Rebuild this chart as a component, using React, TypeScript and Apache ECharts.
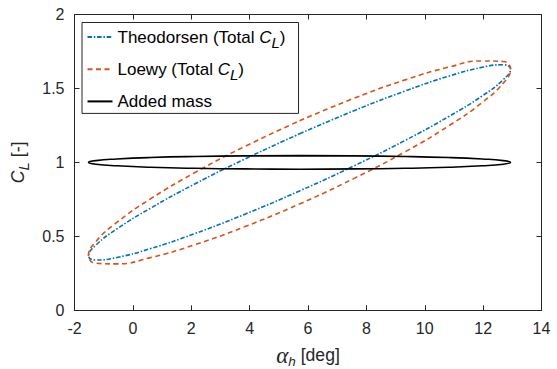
import React, { useEffect, useRef } from 'react';
import * as echarts from 'echarts';

// Stations of the pitch angle around each hysteresis loop (deg)
const ALPHA_DEG = [5.71, 7.58, 9.33, 10.82, 11.97, 12.69, 12.94, 12.69, 11.97, 10.82, 9.33, 7.58, 5.71, 3.84, 2.10, 0.60, -0.55, -1.27, -1.52, -1.27, -0.55, 0.60, 2.10, 3.84];

// Lift coefficient
const CL_THEODORSEN = [1.193, 1.350, 1.483, 1.583, 1.643, 1.660, 1.631, 1.560, 1.450, 1.310, 1.149, 0.977, 0.807, 0.650, 0.517, 0.417, 0.357, 0.340, 0.369, 0.440, 0.550, 0.690, 0.852, 1.023];
const CL_LOEWY = [1.281, 1.434, 1.558, 1.644, 1.686, 1.682, 1.630, 1.536, 1.406, 1.247, 1.072, 0.892, 0.719, 0.566, 0.442, 0.356, 0.314, 0.318, 0.370, 0.464, 0.594, 0.753, 0.928, 1.108];
const CL_ADDED_MASS = [1.046, 1.044, 1.040, 1.033, 1.023, 1.012, 1.000, 0.988, 0.977, 0.967, 0.960, 0.956, 0.954, 0.956, 0.960, 0.967, 0.977, 0.988, 1.000, 1.012, 1.023, 1.033, 1.040, 1.044];

const SERIES_NAMES = ['Theodorsen (Total CL)', 'Loewy (Total CL)', 'Added mass'];
const X_MIN = -2, X_MAX = 14, X_STEP = 2;
const Y_MIN = 0, Y_MAX = 2, Y_STEP = 0.5;

const AXIS_COLOR = '#262626';
const SANS = '"Liberation Sans", Arial, Helvetica, sans-serif';
const SERIF = '"Liberation Serif", "DejaVu Serif", serif';

function loop(cl: number[]): number[][] {
  const pts = ALPHA_DEG.map((a, i) => [a, cl[i]]);
  pts.push([ALPHA_DEG[0], cl[0]]);
  return pts;
}

export default function App() {
  const ref = useRef<HTMLDivElement>(null);
  useEffect(() => {
    if (!ref.current) return;
    const chart = echarts.init(ref.current, undefined, { renderer: 'svg' });
    const axisCommon = {
      type: 'value' as const,
      axisLine: { show: true, onZero: false, lineStyle: { color: AXIS_COLOR, width: 1 } },
      axisTick: { show: true, inside: true, length: 5, lineStyle: { color: AXIS_COLOR, width: 1 } },
      splitLine: { show: false },
    };
    const labelStyle = { color: AXIS_COLOR, fontSize: 16, fontFamily: SANS };
    const nameRich = {
      n: { fontSize: 17.6, fontFamily: SANS, color: AXIS_COLOR, lineHeight: 22 },
      i: { fontSize: 17.6, fontFamily: SANS, fontStyle: 'italic', color: AXIS_COLOR, lineHeight: 22 },
      a: { fontSize: 23, fontFamily: SERIF, fontStyle: 'italic', color: AXIS_COLOR, lineHeight: 22 },
      s: { fontSize: 15, fontFamily: SANS, fontStyle: 'italic', color: AXIS_COLOR, lineHeight: 10, verticalAlign: 'top', padding: [9, 0, 0, 0] },
      sh: { fontSize: 13.5, fontFamily: SANS, fontStyle: 'italic', color: AXIS_COLOR, lineHeight: 10, verticalAlign: 'top', padding: [10.5, 0, 0, 0] },
    };
    chart.setOption({
      animation: false,
      backgroundColor: '#ffffff',
      grid: { left: 74.5, right: 15.5, top: 14.5, bottom: 58.7, containLabel: false, outerBoundsMode: 'none' },
      xAxis: [
        {
          ...axisCommon,
          position: 'bottom',
          min: X_MIN, max: X_MAX, interval: X_STEP,
          axisLabel: { ...labelStyle, margin: 10 },
          name: '{a|α}{sh|h}{n| [deg]}',
          nameLocation: 'middle',
          nameGap: 34,
          nameTextStyle: { rich: nameRich },
        },
        {
          ...axisCommon,
          position: 'top',
          min: X_MIN, max: X_MAX, interval: X_STEP,
          axisLabel: { show: false },
        },
      ],
      yAxis: [
        {
          ...axisCommon,
          position: 'left',
          min: Y_MIN, max: Y_MAX, interval: Y_STEP,
          axisLabel: { ...labelStyle, margin: 10 },
          name: '{i|C}{s|L}{n| [-]}',
          nameLocation: 'middle',
          nameGap: 32,
          nameTextStyle: { rich: nameRich },
        },
        {
          ...axisCommon,
          position: 'right',
          min: Y_MIN, max: Y_MAX, interval: Y_STEP,
          axisLabel: { show: false },
        },
      ],
      legend: {
        orient: 'vertical',
        left: 82,
        top: 22.5,
        padding: [4.5, 13, 2, 4.5],
        itemGap: 9.7,
        itemWidth: 25,
        itemHeight: 14,
        backgroundColor: '#ffffff',
        borderColor: AXIS_COLOR,
        borderWidth: 1,
        borderRadius: 0,
        itemStyle: { opacity: 0, borderWidth: 0 },
        data: SERIES_NAMES,
        formatter: (name: string) => {
          if (name === SERIES_NAMES[0]) return '{n|Theodorsen (Total }{i|C}{s|L}{n|)}';
          if (name === SERIES_NAMES[1]) return '{n|Loewy (Total }{i|C}{s|L}{n|)}';
          return '{n|' + name + '}';
        },
        textStyle: {
          fontSize: 17, fontFamily: SANS, color: '#000000', lineHeight: 20,
          rich: {
            n: { fontSize: 17, fontFamily: SANS, color: '#000000', lineHeight: 20 },
            i: { fontSize: 17, fontFamily: SANS, fontStyle: 'italic', color: '#000000', lineHeight: 20 },
            s: { fontSize: 15, fontFamily: SANS, fontStyle: 'italic', color: '#000000', lineHeight: 10, verticalAlign: 'top', padding: [7.5, 0, 0, 0] },
          },
        },
      },
      series: [
        {
          name: SERIES_NAMES[0],
          type: 'line',
          xAxisIndex: 0, yAxisIndex: 0,
          data: loop(CL_THEODORSEN),
          smooth: 0.5,
          showSymbol: false,
          symbol: 'none',
          color: '#0072BD',
          lineStyle: { color: '#0072BD', width: 1.6, type: [4.5, 1.8, 1.5, 1.8], cap: 'butt' },
        },
        {
          name: SERIES_NAMES[1],
          type: 'line',
          xAxisIndex: 0, yAxisIndex: 0,
          data: loop(CL_LOEWY),
          smooth: 0.5,
          showSymbol: false,
          symbol: 'none',
          color: '#D95319',
          lineStyle: { color: '#D95319', width: 1.6, type: [5, 3.5], cap: 'butt' },
        },
        {
          name: SERIES_NAMES[2],
          type: 'line',
          xAxisIndex: 0, yAxisIndex: 0,
          data: loop(CL_ADDED_MASS),
          smooth: 0.5,
          showSymbol: false,
          symbol: 'none',
          color: '#000000',
          lineStyle: { color: '#000000', width: 1.6, type: 'solid' },
        },
      ],
    });
    return () => chart.dispose();
  }, []);
  return <div ref={ref} style={{ position: 'fixed', left: 0, top: 0, width: 557, height: 369, background: '#fff' }} />;
}
